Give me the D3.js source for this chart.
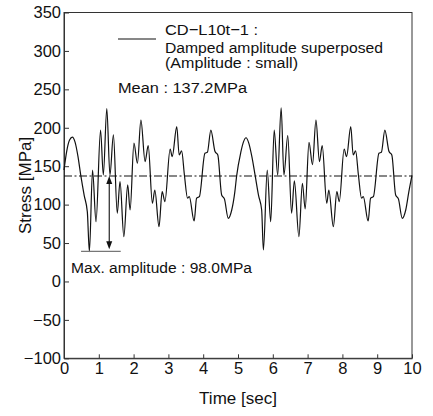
<!DOCTYPE html>
<html><head><meta charset="utf-8">
<script src="https://cdn.jsdelivr.net/npm/d3@7"></script>
<style>
body{margin:0;background:#fff}
text{font-family:"Liberation Sans",Arial,Helvetica,sans-serif;fill:#111}
</style>
</head><body>
<svg id="chart" width="433" height="416"></svg>
<script>
const timeSec = [0,0.08,0.16,0.24,0.32,0.40,0.48,0.58,0.67,0.73,
0.82,0.92,1.05,1.13,1.23,1.32,1.42,1.53,1.61,1.72,
1.83,1.90,2.01,2.11,2.21,2.33,2.42,2.54,2.61,2.73,
2.82,2.90,3.05,3.11,3.24,3.31,3.38,3.46,3.55,3.60,
3.74,3.81,3.89,4.05,4.12,4.22,4.34,4.42,4.53,4.61,
4.72,4.82,4.91,4.96,5.08,5.16,5.23,5.31,5.40,5.49,
5.59,5.68,5.73,5.84,5.94,6.04,6.14,6.24,6.32,6.43,
6.54,6.62,6.75,6.85,6.93,7.04,7.14,7.24,7.34,7.42,
7.55,7.61,7.74,7.84,7.91,8.05,8.12,8.24,8.31,8.38,
8.46,8.55,8.60,8.74,8.81,8.89,9.05,9.12,9.22,9.34,
9.42,9.53,9.61,9.72,9.82,9.91,10.0];
const stressMPa = [145,170,184,187.7,181,163,138.6,112,90.8,38.8,
145,77.8,197,138.6,225,138.6,190.7,88.8,130,58.3,
125.6,93,180,153.8,210,156,176.7,101.8,119,71.3,
116.9,103.9,172.4,162.4,201.5,164.6,169.8,138.6,108.3,110.4,
78.7,108.3,110.4,166.8,168.1,197,169,164.6,112.6,107.4,
82.2,93,116.9,137,168,182,187,180,162,138.6,
112,93,41,145,77.8,197,138.6,226,138.6,189.7,
88.8,130.8,58.3,127.8,94.4,181,152,210,156,176.7,
101.8,119,71.3,116.9,103.9,172.4,162.4,201.5,164.6,169.8,
138.6,108.3,110.4,78.7,108.3,110.4,166.8,168.1,197,169,
164.6,112.6,107.4,82.2,93,116.9,138];
const xTicks = [0,1,2,3,4,5,6,7,8,9,10];
const yTicks = [-100,-50,0,50,100,150,200,250,300,350];
const meanStress = 137.2;
const maxAmplitude = 98.0;
const ampMarkTime = 1.30;
const ampBaseRange = [0.49, 1.63];
const legendLines = ["CD\u2212L10t\u22121 :", "Damped amplitude superposed", "(Amplitude : small)"];
const meanLabel = "Mean : 137.2MPa";
const ampLabel = "Max. amplitude : 98.0MPa";
const xTitle = "Time [sec]";
const yTitle = "Stress [MPa]";

const svg = d3.select("#chart");
const L = 64, R = 412, T = 12.5, B = 358.3;
const x = d3.scaleLinear().domain([0,10]).range([L,R]);
const y = d3.scaleLinear().domain([-100,350]).range([B,T]);

// frame
svg.append("rect").attr("x",L).attr("y",T).attr("width",R-L).attr("height",B-T)
  .attr("fill","none").attr("stroke","#333").attr("stroke-width",1);

const gx = svg.append("g").attr("transform",`translate(0,${B})`)
  .call(d3.axisBottom(x).tickValues(xTicks).tickSizeInner(-4).tickSizeOuter(0).tickPadding(4).tickFormat(d3.format("d")));
const gy = svg.append("g").attr("transform",`translate(${L},0)`)
  .call(d3.axisLeft(y).tickValues(yTicks).tickSizeInner(-5).tickSizeOuter(0).tickPadding(3).tickFormat(d3.format("d")));
[gx,gy].forEach(g=>{
  g.selectAll("path.domain").attr("stroke","#333");
  g.selectAll(".tick line").attr("stroke","#333");
  g.selectAll(".tick text").attr("font-size","16.5px").attr("font-family",'"Liberation Sans",Arial,sans-serif').attr("fill","#111");
});

// mean line
svg.append("line").attr("x1",x(0)).attr("x2",x(10)).attr("y1",y(meanStress)).attr("y2",y(meanStress))
  .attr("stroke","#111").attr("stroke-width",1.1).attr("stroke-dasharray","8,2.5,2,2.5");

// signal
const pts = timeSec.map((t,i)=>[t,stressMPa[i]]);
svg.append("path").datum(pts)
  .attr("d", d3.line().x(d=>x(d[0])).y(d=>y(d[1])).curve(d3.curveMonotoneX))
  .attr("fill","none").attr("stroke","#111").attr("stroke-width",1.2);

// amplitude annotation
const lowY = y(meanStress - maxAmplitude);
svg.append("line").attr("x1",x(ampBaseRange[0])).attr("x2",x(ampBaseRange[1])).attr("y1",lowY).attr("y2",lowY)
  .attr("stroke","#777").attr("stroke-width",1.3);
const ax = x(ampMarkTime), topY = y(meanStress);
svg.append("line").attr("x1",ax).attr("x2",ax).attr("y1",topY+6).attr("y2",lowY-6)
  .attr("stroke","#111").attr("stroke-width",1.1);
svg.append("path").attr("d",`M${ax},${topY} L${ax-3},${topY+8} L${ax+3},${topY+8} Z`).attr("fill","#111");
svg.append("path").attr("d",`M${ax},${lowY-2} L${ax-3},${lowY-10} L${ax+3},${lowY-10} Z`).attr("fill","#111");

// legend
svg.append("line").attr("x1",118).attr("x2",156).attr("y1",39).attr("y2",39).attr("stroke","#111").attr("stroke-width",1.2);
const legBase = [35, 52.5, 68];
const legWidth = [93, 218, 133];
legendLines.forEach((s,i)=>{
  svg.append("text").attr("x",165).attr("y",legBase[i]).attr("font-size","15.5px")
    .attr("textLength",legWidth[i]).attr("lengthAdjust","spacingAndGlyphs").text(s);
});
svg.append("text").attr("x",118).attr("y",93.3).attr("font-size","15.5px")
  .attr("textLength",129).attr("lengthAdjust","spacingAndGlyphs").text(meanLabel);
svg.append("text").attr("x",71).attr("y",273.3).attr("font-size","15.5px")
  .attr("textLength",181).attr("lengthAdjust","spacingAndGlyphs").text(ampLabel);

// axis titles
svg.append("text").attr("x",(L+R)/2).attr("y",404).attr("text-anchor","middle").attr("font-size","17px").text(xTitle);
svg.append("text").attr("transform",`translate(30.5,${(T+B)/2}) rotate(-90)`).attr("text-anchor","middle").attr("font-size","17px").text(yTitle);
</script>
</body></html>
